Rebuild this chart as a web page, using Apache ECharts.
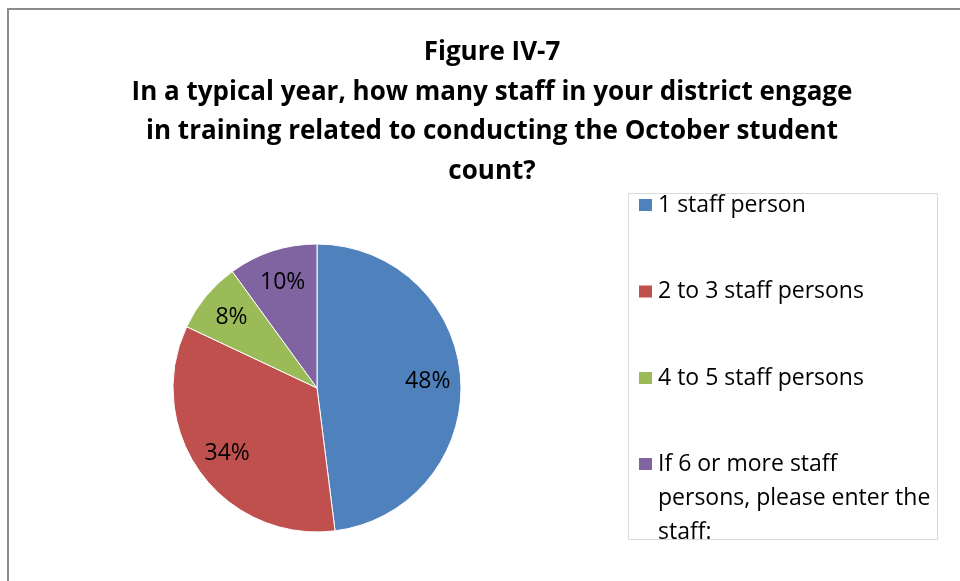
<!DOCTYPE html>
<html>
<head>
<meta charset="utf-8">
<script src="https://cdn.jsdelivr.net/npm/echarts@6/dist/echarts.min.js"></script>
<style>
  html, body { margin: 0; padding: 0; background: #fff; }
  #chart { width: 960px; height: 581px; }
</style>
</head>
<body>
<div id="chart"></div>
<script>
// data
const categories = ['1 staff person', '2 to 3 staff persons', '4 to 5 staff persons', 'If 6 or more staff persons, please enter the staff:']
const shares = [48, 34, 8, 10]
const colors = ['#4F81BD', '#C0504D', '#9BBB59', '#8064A2']
const titleText = 'Figure IV-7\nIn a typical year, how many staff in your district engage\nin training related to conducting the October student\ncount?'

const font = '"Open Sans", Lato, sans-serif'
const pieCenter = [317, 388]
const pieRadius = 144

const pieData = categories.map(function (name, i) {
  return { name: name, value: shares[i], itemStyle: { color: colors[i] } }
})

const chart = echarts.init(document.getElementById('chart'))
chart.setOption({
  backgroundColor: '#fff',
  animation: false,
  title: {
    text: titleText,
    left: 487,
    top: 28,
    textAlign: 'center',
    textStyle: {
      fontFamily: font,
      fontWeight: 'bold',
      fontSize: 26,
      lineHeight: 39.5,
      color: '#000'
    }
  },
  legend: [
    {
      data: categories.slice(0, 3),
      orient: 'vertical',
      left: 637,
      top: 192,
      padding: 0,
      itemWidth: 15,
      itemHeight: 14,
      itemGap: 60.5,
      icon: 'rect',
      selectedMode: false,
      textStyle: { fontFamily: font, fontSize: 23, lineHeight: 26, color: '#000' }
    },
    {
      data: categories.slice(3),
      orient: 'vertical',
      left: 637,
      top: 379,
      padding: 0,
      itemWidth: 15,
      itemHeight: 14,
      icon: 'rect',
      selectedMode: false,
      // two blank lines first so the marker sits level with the first text line
      formatter: function () {
        return '\n\nIf 6 or more staff\npersons, please enter the\nstaff:'
      },
      textStyle: { fontFamily: font, fontSize: 23, lineHeight: 34, color: '#000' }
    }
  ],
  graphic: [
    {
      type: 'rect',
      silent: true,
      shape: { x: 8, y: 9, width: 1000, height: 1000 },
      style: { fill: 'none', stroke: '#8c8c8c', lineWidth: 2 }
    },
    {
      type: 'rect',
      silent: true,
      shape: { x: 628.5, y: 193.5, width: 309, height: 346 },
      style: { fill: 'none', stroke: '#d9d9d9', lineWidth: 1 }
    }
  ],
  series: [
    {
      name: 'staff',
      type: 'pie',
      center: pieCenter,
      radius: [0, pieRadius],
      startAngle: 90,
      clockwise: true,
      silent: true,
      label: { show: false },
      labelLine: { show: false },
      itemStyle: { borderColor: '#fff', borderWidth: 1 },
      data: pieData
    },
    {
      // transparent ring carrying the percent labels further out than 'inside' on a full pie
      name: 'labels',
      type: 'pie',
      center: pieCenter,
      radius: [pieRadius / 2, pieRadius],
      startAngle: 90,
      clockwise: true,
      silent: true,
      legendHoverLink: false,
      itemStyle: { color: 'rgba(0,0,0,0)', borderWidth: 0 },
      label: {
        show: true,
        position: 'inside',
        formatter: '{c}%',
        fontFamily: font,
        fontSize: 23,
        color: '#000'
      },
      labelLine: { show: false },
      data: categories.map(function (name, i) { return { name: name, value: shares[i] } })
    }
  ]
})
</script>
</body>
</html>
